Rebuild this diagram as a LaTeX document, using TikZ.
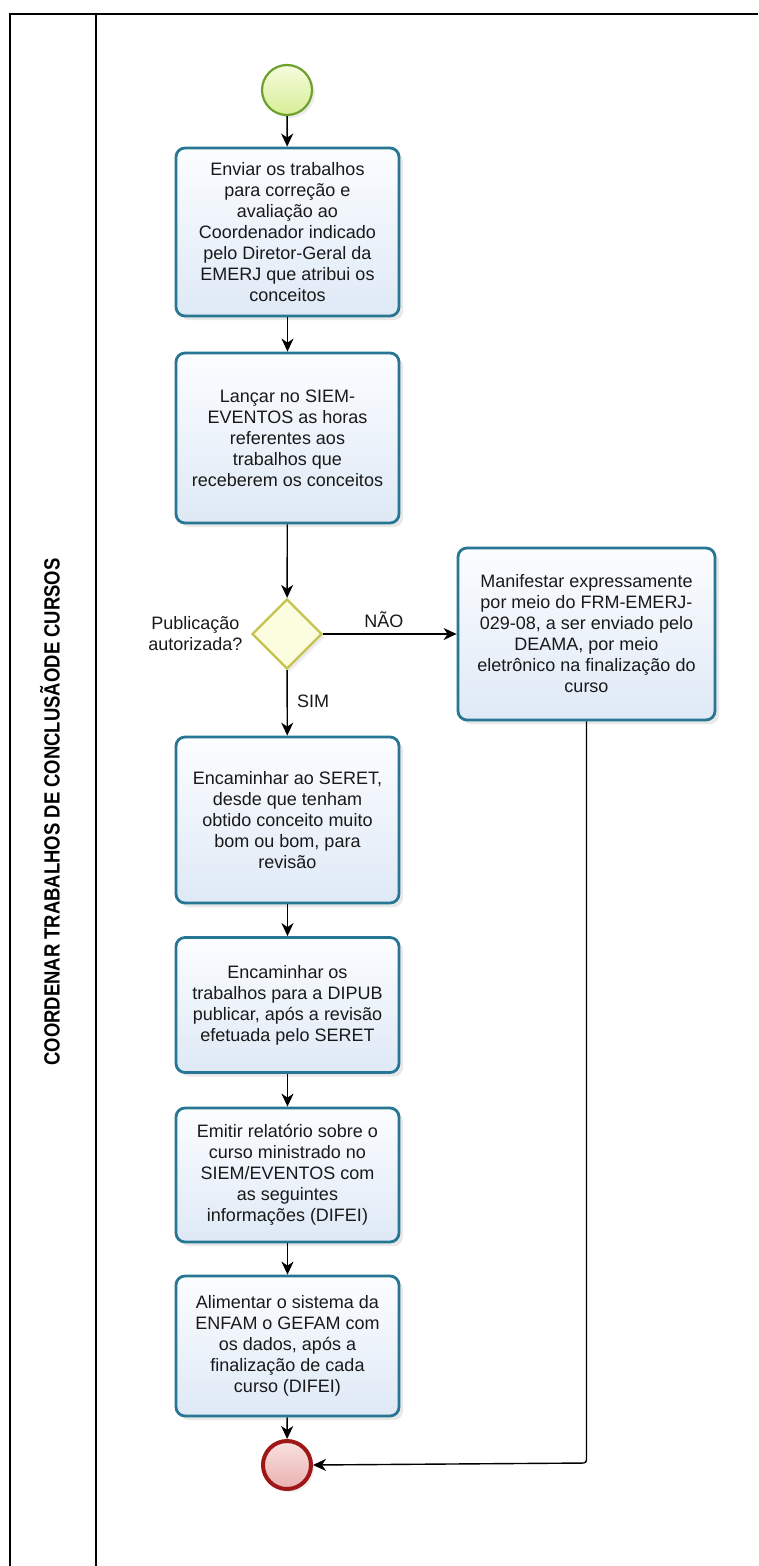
\documentclass[tikz,border=0pt]{standalone}
\usepackage{fontspec}
\setmainfont{Liberation Sans}
\usepackage{graphicx}
\usetikzlibrary{arrows.meta,shapes.geometric,shadows}
\definecolor{boxborder}{RGB}{38,118,148}
\definecolor{boxtop}{RGB}{252,253,255}
\definecolor{boxbot}{RGB}{222,233,246}
\definecolor{startborder}{RGB}{110,160,45}
\definecolor{starttop}{RGB}{246,252,222}
\definecolor{startbot}{RGB}{214,238,150}
\definecolor{gateborder}{RGB}{196,196,80}
\definecolor{gatefill}{RGB}{252,252,222}
\definecolor{endborder}{RGB}{158,22,22}
\definecolor{endtop}{RGB}{250,225,225}
\definecolor{endbot}{RGB}{234,176,176}
\definecolor{textcol}{RGB}{25,25,25}
\tikzset{
  txt/.style={font=\fontsize{18}{21}\selectfont, align=center, text=textcol},
  task/.style={txt, draw=boxborder, line width=2.8pt, rounded corners=9pt,
    top color=boxtop, bottom color=boxbot, minimum width=223pt, inner sep=2pt,
    drop shadow={opacity=0.18, shadow xshift=4pt, shadow yshift=-4pt}},
  startev/.style={circle, draw=startborder, line width=2.2pt, top color=starttop,
    bottom color=startbot, minimum size=50pt, inner sep=0pt,
    drop shadow={opacity=0.15, shadow xshift=3pt, shadow yshift=-3pt}},
  endev/.style={circle, draw=endborder, line width=4pt, top color=endtop,
    bottom color=endbot, minimum size=48pt, inner sep=0pt,
    drop shadow={opacity=0.15, shadow xshift=3pt, shadow yshift=-3pt}},
  gate/.style={diamond, draw=gateborder, line width=2.4pt, fill=gatefill,
    minimum width=70pt, minimum height=70pt, inner sep=0pt, aspect=1,
    drop shadow={opacity=0.15, shadow xshift=3pt, shadow yshift=-3pt}},
  arr/.style={-{Stealth[length=13pt,width=12pt,inset=4pt]}, line width=1.4pt, black},
  lane/.style={line width=1.5pt, black}
}
\begin{document}
\begin{tikzpicture}[x=1pt,y=-1pt]
\useasboundingbox (0,0) rectangle (758,1566);
\fill[white] (0,0) rectangle (758,1566);
% lane frame
\draw[lane] (10,1566) -- (10,14) -- (758,14);
\draw[lane] (96,14) -- (96,1566);
\node[rotate=90, font=\bfseries\fontsize{22}{22}\selectfont] (lanelabel) at (50,812)
  {\scalebox{0.84}[1]{COORDENAR TRABALHOS DE CONCLUSÃODE CURSOS}};

% nodes
\node[startev] (start) at (287,90) {};
\node[task, minimum height=168pt] (b1) at (287.5,232)
  {Enviar os trabalhos\\para correção e\\avaliação ao\\Coordenador indicado\\pelo Diretor-Geral da\\EMERJ que atribui os\\conceitos};
\node[task, minimum height=170pt] (b2) at (287.5,438)
  {Lançar no SIEM-\\EVENTOS as horas\\referentes aos\\trabalhos que\\receberem os conceitos};
\node[gate] (g) at (287,634) {};
\node[txt, anchor=east] (glabel) at (246,634) {Publicação\\autorizada?};
\node[task, minimum width=257pt, minimum height=172pt] (r) at (586.5,634)
  {Manifestar expressamente\\por meio do FRM-EMERJ-\\029-08, a ser enviado pelo\\DEAMA, por meio\\eletrônico na finalização do\\curso};
\node[task, minimum height=166pt] (b3) at (287.5,820)
  {Encaminhar ao SERET,\\desde que tenham\\obtido conceito muito\\bom ou bom, para\\revisão};
\node[task, minimum height=135pt] (b4) at (287.5,1005)
  {Encaminhar os\\trabalhos para a DIPUB\\publicar, após a revisão\\efetuada pelo SERET};
\node[task, minimum height=134pt] (b5) at (287.5,1175)
  {Emitir relatório sobre o\\curso ministrado no\\SIEM/EVENTOS com\\as seguintes\\informações (DIFEI)};
\node[task, minimum height=140pt] (b6) at (287.5,1346)
  {Alimentar o sistema da\\ENFAM o GEFAM com\\os dados, após a\\finalização de cada\\curso (DIFEI)};
\node[endev] (end) at (287,1465) {};
\coordinate (corner) at (586.5,1463);

% connectors
\draw[arr] (start) -- (b1);
\draw[arr] (b1) -- (b2);
\draw[arr] (b2) -- (g);
\draw[arr] (g) -- node[txt, above, yshift=2pt, xshift=-6pt] (nao) {NÃO} (r);
\draw[arr] (g) -- node[txt, pos=0.48, right, xshift=6pt] (sim) {SIM} (b3);
\draw[arr] (b3) -- (b4);
\draw[arr] (b4) -- (b5);
\draw[arr] (b5) -- (b6);
\draw[arr] (b6) -- (end);
\draw[arr, rounded corners=3pt] (r.south) -- (corner) -- (end.east);
\end{tikzpicture}
\end{document}
